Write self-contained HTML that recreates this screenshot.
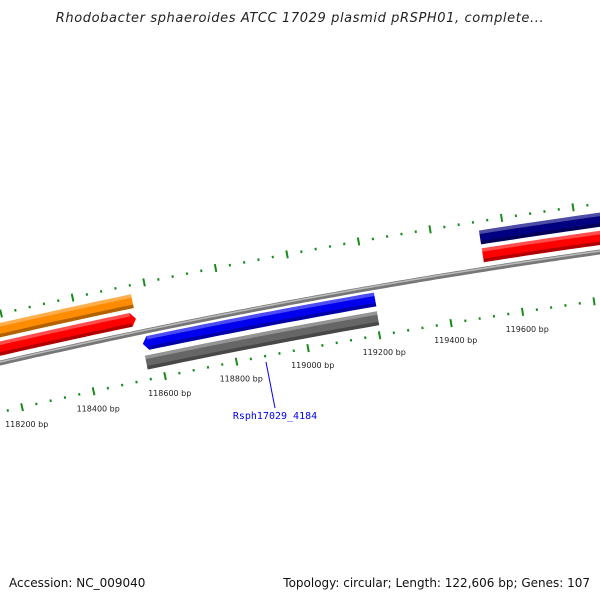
<!DOCTYPE html>
<html><head><meta charset="utf-8"><style>
html,body{margin:0;padding:0;background:#fff;}
svg{display:block;font-family:"DejaVu Sans","Liberation Sans",sans-serif;}
</style></head><body>
<svg id="c" width="600" height="600" viewBox="0 0 600 600">
<text x="300" y="22" text-anchor="middle" font-size="13" font-style="italic" fill="#222" letter-spacing="0.6">Rhodobacter sphaeroides ATCC 17029 plasmid pRSPH01, complete...</text>
<g id="g"></g>
<text x="9" y="587" font-size="12" fill="#111">Accession: NC_009040</text>
<text x="590" y="587" font-size="12" fill="#111" text-anchor="end">Topology: circular; Length: 122,606 bp; Genes: 107</text>
</svg>
<script>
// data
const tickBp = [118200,118400,118600,118800,119000,119200,119400,119600,119800];
const tickLabels = ["118200 bp","118400 bp","118600 bp","118800 bp","119000 bp","119200 bp","119400 bp","119600 bp",""];
const featNames = ["orange-gene","red-gene-left","blue-gene-rsph17029-4184","gray-gene","navy-gene","red-gene-right"];
const featColors = ["#ff8c00","#ff0000","#0000ee","#666666","#000080","#ff0000"];
const featTop = [-39,-21,5,24,-39,-21];
const featBot = [-25,-7,19,38,-25,-7];
const featArrow = ["none","right","left","none","none","none"];
const featFrom = [117800,117800,118545,118530,119495,119495];
const featTo   = [118527,118513,119182,119181,119900,119900];

const NS="http://www.w3.org/2000/svg";
const g=document.getElementById('g');
const A=363,B=-0.23,C=0.000075;
function bx(bp){return 22+(bp-118200)*0.3575;}
function cy(x){return A+B*x+C*x*x;}
function pt(x,off){const m=B+2*C*x;const n=Math.sqrt(1+m*m);return [x-m*off/n, cy(x)+off/n];}
function comp(x,off){const m=B+2*C*x;const n=Math.sqrt(1+m*m);return x+m*off/n;}
function mk(tag,attrs){const e=document.createElementNS(NS,tag);for(const k in attrs)e.setAttribute(k,attrs[k]);g.appendChild(e);return e;}
function band(x0,x1,o0,o1,arrow){
  const pts=[];const N=20;
  for(let i=0;i<=N;i++){pts.push(pt(x0+(x1-x0)*i/N,o0));}
  if(arrow==='right'){pts.push(pt(x1+5,(o0+o1)/2));}
  for(let i=N;i>=0;i--){pts.push(pt(x0+(x1-x0)*i/N,o1));}
  if(arrow==='left'){pts.push(pt(x0-5,(o0+o1)/2));}
  return pts.map(p=>p[0].toFixed(1)+','+p[1].toFixed(1)).join(' ');
}
// backbone
let d='';for(let x=-5;x<=605;x+=5){const p=pt(x,0);d+=(x===-5?'M':'L')+p[0].toFixed(1)+','+p[1].toFixed(1);}
let e=mk('path',{d:d,stroke:'#777',"stroke-width":5,fill:'none'});


e=mk('path',{d:d,stroke:'#bbb',"stroke-width":1.5,fill:'none',transform:'translate(0,-1)'});


// features
for(let i=0;i<featColors.length;i++){
  const x0=bx(featFrom[i]),x1=Math.min(bx(featTo[i]),620);
  e=mk('polygon',{points:band(x0,x1,featTop[i],featBot[i],featArrow[i]),fill:featColors[i]});
  
  
  const h=featBot[i]-featTop[i];
  e=mk('polygon',{points:band(x0,x1,featTop[i],featTop[i]+h*0.25,'none'),fill:'#fff',opacity:0.3});
  
  
  e=mk('polygon',{points:band(x0,x1,featBot[i]-h*0.25,featBot[i],'none'),fill:'#000',opacity:0.3});
  
  
}
// ticks
function tick(xs,off,len,major){
  const x=comp(xs,off);
  const a=pt(x,off-len/2),b=pt(x,off+len/2);
  const t=mk('line',{x1:a[0],y1:a[1],x2:b[0],y2:b[1],stroke:'#1a8a1a',"stroke-width":2});
  
  
}
for(let bp=118000;bp<=120000;bp+=40){
  const x=bx(bp);const major=(bp%200===0);
  if(x>-5&&x<605) tick(x,48,major?8:2.5,major);
  const xu=x-21; if(xu>-5&&xu<605) tick(xu,-48,major?8:2.5,major);
}
for(let i=0;i<tickBp.length;i++){
  const xs=bx(tickBp[i]);const p=pt(comp(xs,48),48);
  const t=mk('text',{x:(p[0]-17).toFixed(1),y:(p[1]+20).toFixed(1),"font-size":8,fill:'#222'});
  t.textContent=tickLabels[i];
  
  
}
// gene label
e=mk('line',{x1:266,y1:362,x2:275,y2:408,stroke:'#0000ee',"stroke-width":1});


e=mk('text',{x:275,y:419,"font-size":10,fill:'#0000ee',"text-anchor":'middle',"font-family":'"DejaVu Sans Mono","Liberation Mono",monospace'});
e.textContent='Rsph17029_4184';


</script>
</body></html>
